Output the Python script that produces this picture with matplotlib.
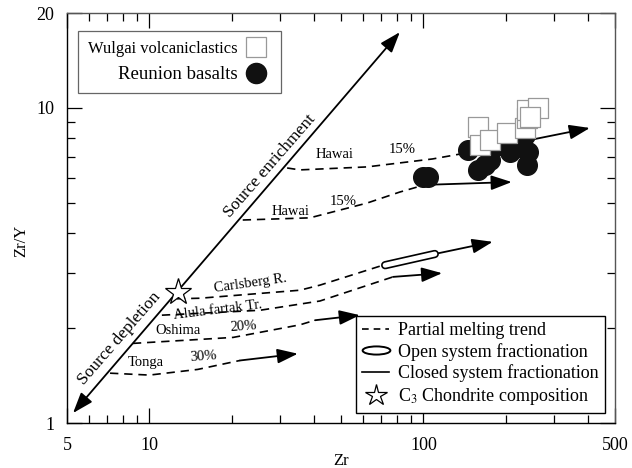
import matplotlib
matplotlib.use('Agg')
import matplotlib.pyplot as plt
import matplotlib.path as mpath
from matplotlib.transforms import Affine2D
from matplotlib.lines import Line2D
from matplotlib.ticker import FixedLocator, NullFormatter

plt.rcParams['font.family'] = ['Liberation Serif', 'DejaVu Serif']
plt.rcParams['mathtext.fontset'] = 'stix'

# sample data
wulgai_zr = [158, 161, 175, 202, 235, 239, 239, 262, 245]
wulgai_zry = [8.71, 7.63, 7.91, 8.33, 8.64, 9.29, 9.85, 10.0, 9.36]
reunion_zr = [99.6, 104, 145.5, 158, 168, 175, 168, 207, 241, 239, 235, 219, 190]
reunion_zry = [6.04, 6.04, 7.36, 6.36, 6.59, 6.84, 7.74, 7.25, 7.25, 6.59, 8.2, 7.52, 7.63]

# source enrichment / depletion line
source_zr = [5.26, 82]
source_zry = [1.076, 17.4]
chondrite = (12.7, 2.61)

# partial melting trends (dashed)
hawai1_zr = [31.8, 35.4, 62.2, 108, 136]
hawai1_zry = [6.45, 6.36, 6.5, 6.89, 7.14]
hawai2_zr = [21.9, 38.5, 62.2, 82, 101]
hawai2_zry = [4.41, 4.48, 4.99, 5.41, 5.7]
carls_zr = [12.6, 15.3, 35.4, 41.9, 71.2]
carls_zry = [2.48, 2.49, 2.64, 2.74, 3.17]
alula_zr = [11.1, 25.3, 41.9, 77.4]
alula_zry = [2.2, 2.28, 2.44, 2.91]
oshima_zr = [8.7, 20.2, 35.4, 40.2]
oshima_zry = [1.79, 1.87, 2.05, 2.12]
tonga_zr = [7.18, 10, 15, 21.4]
tonga_zry = [1.44, 1.42, 1.48, 1.58]

# closed system fractionation arrows (start, tip)
closed = [((136, 7.14), (405, 8.64)),
          ((101, 5.7), (210, 5.82)),
          ((110, 3.44), (179, 3.76)),
          ((77.4, 2.91), (117, 2.99)),
          ((40.2, 2.12), (58.6, 2.2)),
          ((21.4, 1.58), (34.8, 1.66))]
# open system fractionation segment
open_zr = [72.5, 110]
open_zry = [3.17, 3.44]

fig = plt.figure(figsize=(6.32, 4.68), dpi=100)
ax = fig.add_axes([0.106, 0.096, 0.867, 0.876])
ax.set_xscale('log')
ax.set_yscale('log')
ax.set_xlim(5, 500)
ax.set_ylim(1, 20)

dash = dict(color='k', lw=1.2, ls=(0, (5, 3.5)))
for xs, ys in [(hawai1_zr, hawai1_zry), (hawai2_zr, hawai2_zry),
               (carls_zr, carls_zry), (alula_zr, alula_zry),
               (oshima_zr, oshima_zry), (tonga_zr, tonga_zry)]:
    ax.plot(xs, ys, **dash, zorder=2)

arr = dict(arrowstyle='-|>,head_length=0.9,head_width=0.32', color='k',
           lw=1.3, mutation_scale=14, shrinkA=0, shrinkB=0)
for start, tip in closed:
    ax.annotate('', xy=tip, xytext=start, arrowprops=arr, zorder=2)

ax.plot(open_zr, open_zry, color='k', lw=6, solid_capstyle='round', zorder=3)
ax.plot(open_zr, open_zry, color='white', lw=3.6, solid_capstyle='round', zorder=3)

ax.annotate('', xy=(source_zr[1], source_zry[1]), xytext=(source_zr[0], source_zry[0]),
            arrowprops=dict(arrowstyle='<|-|>,head_length=0.9,head_width=0.32',
                            color='k', lw=1.3, mutation_scale=14,
                            shrinkA=0, shrinkB=0), zorder=2)

ax.scatter(reunion_zr, reunion_zry, s=200, marker='o', c='#111111',
           edgecolors='#111111', zorder=4)
ax.scatter(wulgai_zr, wulgai_zry, s=190, marker='s', c='white',
           edgecolors='#999999', linewidths=0.9, zorder=5)
ax.plot(*chondrite, marker='*', ms=20, mfc='white', mec='k', mew=0.9, zorder=6)

# curve labels
fs = 10.5
ax.text(47.5, 7.1, 'Hawai', fontsize=fs, ha='center', va='center')
ax.text(84, 7.4, '15%', fontsize=fs, ha='center', va='center')
ax.text(32.6, 4.68, 'Hawai', fontsize=fs, ha='center', va='center')
ax.text(50.8, 5.05, '15%', fontsize=fs, ha='center', va='center')
ax.text(23.3, 2.78, 'Carlsberg R.', fontsize=fs, ha='center', va='center', rotation=8)
ax.text(17.8, 2.28, 'Alula fartak Tr.', fontsize=fs, ha='center', va='center', rotation=7)
ax.text(12.7, 1.97, 'Oshima', fontsize=fs, ha='center', va='center')
ax.text(22.1, 2.03, '20%', fontsize=fs, ha='center', va='center', rotation=4)
ax.text(9.7, 1.56, 'Tonga', fontsize=fs, ha='center', va='center')
ax.text(15.8, 1.62, '30%', fontsize=fs, ha='center', va='center', rotation=4)
ax.text(27.5, 6.54, 'Source enrichment', fontsize=12.5, ha='center', va='center',
        rotation=49)
ax.text(7.8, 1.85, 'Source depletion', fontsize=12.5, ha='center', va='center',
        rotation=49)

# axes styling
ax.xaxis.set_major_locator(FixedLocator([5, 10, 100, 500]))
ax.xaxis.set_minor_locator(FixedLocator([6, 7, 8, 9, 20, 30, 40, 50, 60, 70, 80, 90,
                                         200, 300, 400]))
ax.set_xticklabels(['5', '10', '100', '500'])
ax.xaxis.set_minor_formatter(NullFormatter())
ax.yaxis.set_major_locator(FixedLocator([1, 10, 20]))
ax.yaxis.set_minor_locator(FixedLocator([2, 3, 4, 5, 6, 7, 8, 9]))
ax.set_yticklabels(['1', '10', '20'])
ax.yaxis.set_minor_formatter(NullFormatter())
ax.tick_params(which='both', direction='in', top=True, right=True, width=0.9)
ax.tick_params(which='major', length=11, labelsize=13)
ax.tick_params(which='minor', length=6)
ax.tick_params(axis='x', which='major', pad=10)
ax.tick_params(axis='y', which='major', pad=9)
for side in ['top', 'right']:
    ax.spines[side].set_color('#555555')
for side in ax.spines:
    ax.spines[side].set_linewidth(1.0)

ax.set_xlabel('Zr', fontsize=12)
ax.xaxis.set_label_coords(0.5, -0.074)
ax.set_ylabel('Zr/Y', fontsize=12)
ax.yaxis.set_label_coords(-0.068, 0.445)

# sample legend
h1 = Line2D([], [], ls='none', marker='s', ms=14, mfc='white', mec='#999999', mew=0.9)
h2 = Line2D([], [], ls='none', marker='o', ms=14.5, mfc='#111111', mec='#111111')
leg1 = ax.legend([h1, h2], ['Wulgai volcaniclastics', 'Reunion basalts'],
                 loc='upper left', bbox_to_anchor=(0.02, 0.957), markerfirst=False,
                 fancybox=False, edgecolor='#666666', framealpha=1, fontsize=11.9,
                 handlelength=1.8, handletextpad=0.25, borderpad=0.6, labelspacing=0.55,
                 borderaxespad=0)
leg1.get_frame().set_linewidth(0.9)
leg1.get_texts()[1].set_fontsize(13.5)
ax.add_artist(leg1)

# symbol legend
capsule = Affine2D().scale(3.4, 1).transform_path(mpath.Path.unit_circle())
l1 = Line2D([], [], color='k', lw=1.2, ls=(0, (4, 3)))
l2 = Line2D([], [], ls='none', marker=capsule, ms=20, mfc='white', mec='k', mew=1.4)
l3 = Line2D([], [], color='k', lw=1.2)
l4 = Line2D([], [], ls='none', marker='*', ms=16, mfc='white', mec='k', mew=0.9)
leg2 = ax.legend([l1, l2, l3, l4],
                 ['Partial melting trend', 'Open system fractionation',
                  'Closed system fractionation', 'C$_3$ Chondrite composition'],
                 loc='lower right', bbox_to_anchor=(0.982, 0.024),
                 fancybox=False, edgecolor='k', framealpha=1, fontsize=13,
                 handlelength=1.5, handletextpad=0.5, borderpad=0.35,
                 labelspacing=0.2, borderaxespad=0)
leg2.get_frame().set_linewidth(1.0)

fig.savefig('out.png', dpi=100)
